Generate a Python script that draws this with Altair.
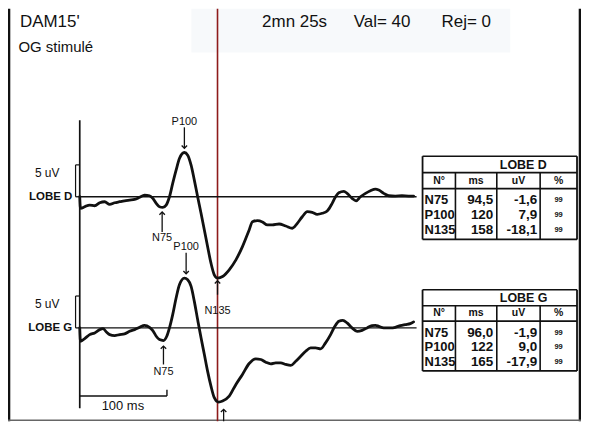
import altair as alt
import pandas as pd

# ---------------- data ----------------
D_T = [0, 0.6, 1.1, 5.7, 11.4, 17.1, 22.9, 28.6, 34.3, 40.0, 45.7, 51.4, 57.1, 62.9, 68.6,
       74.3, 80.0, 83.8, 87.7, 91.4, 95.2, 99.1, 102.9, 106.6, 110.5, 114.3, 120.0, 123.8,
       127.7, 131.4, 135.2, 139.1, 142.9, 146.6, 150.5, 154.3, 158.1, 163.8, 171.4, 179.1,
       186.6, 194.3, 198.1, 203.8, 209.5, 215.2, 220.9, 228.6, 236.2, 243.8, 249.5, 255.2,
       260.9, 266.6, 272.3, 278.1, 283.8, 289.5, 293.4, 297.1, 302.9, 306.6, 312.3, 316.9,
       321.9, 327.7, 333.4, 339.1, 342.9, 348.6, 354.3, 361.9, 369.5, 377.1, 382.9]
D_UV = [0, -1.61, -1.81, -1.56, -1.30, -1.41, -0.94, -0.78, -1.19, -0.94, -0.78, -0.63, -0.52,
        -0.41, -0.09, 0.27, 0.16, -0.25, -1.03, -1.56, -1.66, -1.30, 0, 2.09, 4.17, 6.0, 6.94,
        6.52, 4.95, 2.61, 0, -2.59, -5.20, -7.81, -10.41, -12.23, -12.75, -12.5, -11.45, -9.89,
        -7.81, -5.20, -3.91, -3.75, -3.95, -4.42, -4.42, -4.27, -4.58, -4.94, -4.16, -3.13,
        -2.34, -2.44, -2.75, -2.59, -2.23, -1.03, 0, 0.63, 0.84, 0.53, -0.25, -0.63, 0, 0.53,
        0.94, 1.20, 1.05, 0.53, 0.16, 0.11, 0.16, 0.11, 0.11]
G_T = [0, 0.6, 1.1, 5.7, 11.4, 17.1, 22.9, 26.6, 30.5, 34.3, 40.0, 45.7, 51.4, 57.1, 62.9,
       68.6, 74.3, 80.0, 83.8, 87.7, 91.4, 96.0, 99.8, 102.9, 106.6, 110.5, 114.3, 120.0,
       123.8, 127.7, 131.4, 135.2, 139.1, 142.9, 146.6, 150.5, 154.3, 159.2, 163.8, 171.4,
       179.1, 186.6, 194.3, 201.9, 207.7, 213.4, 219.1, 224.8, 230.5, 236.2, 241.9, 247.7,
       253.4, 259.1, 264.8, 270.5, 276.2, 281.9, 287.7, 292.6, 297.1, 301.7, 306.6, 312.3,
       318.1, 323.8, 329.5, 335.2, 339.1, 342.9, 348.6, 356.2, 361.9, 367.7, 373.4, 379.1, 382.9]
G_UV = [0, -1.83, -2.09, -1.67, -1.05, -0.78, -0.27, -0.11, -0.63, -1.05, -1.20, -1.05, -0.94,
        -0.53, -0.27, 0.09, 0.41, 0.09, -0.42, -1.31, -1.83, -1.98, -1.31, 0, 2.08, 4.69, 6.77,
        7.81, 7.55, 6.5, 4.16, 1.30, -1.56, -4.17, -6.78, -9.13, -10.94, -11.63, -11.47, -10.69,
        -8.86, -7.30, -5.58, -4.84, -4.95, -5.38, -5.63, -5.47, -5.47, -5.73, -5.89, -5.22,
        -4.44, -3.66, -3.13, -3.13, -3.28, -2.34, -1.05, 0.25, 1.03, 1.19, 0.78, 0, -0.53,
        -0.38, 0, 0.36, 0.41, 0.25, 0, 0, 0.09, 0.36, 0.52, 0.67, 0.94]

PEAKS = ["N75", "P100", "N135"]
D_MS = [94.5, 120, 158]
D_AMP = [-1.6, 7.9, -18.1]
D_PCT = [99, 99, 99]
G_MS = [96.0, 122, 165]
G_AMP = [-1.9, 9.0, -17.9]
G_PCT = [99, 99, 99]
TABLE_HEAD = ["N°", "ms", "uV", "%"]

HEADER_LEFT = ["DAM15'", "OG stimulé"]
HEADER_RIGHT = ["2mn 25s", "Val= 40", "Rej= 0"]
SCALE_UV = 5
SCALE_MS = 100
CURSOR_MS = 158

# ---------------- layout ----------------
OFF = 8
W, H = 575, 414
X0 = 80.0
PX_MS = 0.875
PX_UV = 6.4
BASE = {"D": 196.7, "G": 328.3}
XMIN = (OFF - X0) / PX_MS
XMAX = XMIN + W / PX_MS
YMAX = H / PX_UV
YOFF = {k: (OFF + H - v) / PX_UV for k, v in BASE.items()}
FONT = "Liberation Sans"
INK = "#111111"


def px(x):
    return x - OFF


def py(y):
    return y - OFF


xs = alt.Scale(domain=[XMIN, XMAX], nice=False, zero=False)
ys = alt.Scale(domain=[0, YMAX], nice=False, zero=False)
one = pd.DataFrame({"k": [0]})
layers = []


def text(s, x, y, size, weight="normal", align="left", color=INK):
    return alt.Chart(one).mark_text(
        text=s, fontSize=size, fontWeight=weight, align=align, baseline="middle",
        font=FONT, color=color
    ).encode(x=alt.value(px(x)), y=alt.value(py(y)))


def hline(x1, x2, y, w=1.5, color=INK):
    return alt.Chart(one).mark_rule(strokeWidth=w, color=color).encode(
        x=alt.value(px(x1)), x2=alt.value(px(x2)), y=alt.value(py(y)))


def vline(x, y1, y2, w=1.5, color=INK):
    return alt.Chart(one).mark_rule(strokeWidth=w, color=color).encode(
        x=alt.value(px(x)), y=alt.value(py(y1)), y2=alt.value(py(y2)))


# faint scan band at the top
layers.append(alt.Chart(one).mark_rect(color="#f7f9fb").encode(
    x=alt.value(px(192)), x2=alt.value(px(512)), y=alt.value(0), y2=alt.value(py(52))))

# frame
layers.append(vline(OFF + 1, OFF, OFF + H, w=2.6))
layers.append(vline(582, OFF, OFF + H, w=2.6))
layers.append(hline(OFF, 583, OFF + H - 1, w=1.5, color="#666666"))

# header
layers.append(text(HEADER_LEFT[0], 20, 21.7, 17))
layers.append(text(HEADER_LEFT[1], 18.5, 46.5, 15))
for s, x in zip(HEADER_RIGHT, [263, 355, 443]):
    layers.append(text(s, x, 21.7, 17))

# cursor (red)
layers.append(alt.Chart(pd.DataFrame({"t": [CURSOR_MS]})).mark_rule(
    color="#8e1b1b", strokeWidth=1.6).encode(
    x=alt.X("t:Q", scale=xs, axis=None), y=alt.value(0), y2=alt.value(H)))

# vertical axis + baselines
layers.append(vline(80, 120, 409, w=1.7))
for lobe in ["D", "G"]:
    layers.append(hline(80, 418, BASE[lobe], w=1.3))
    layers.append(hline(75.8, 80, BASE[lobe], w=1.3))

# 5 uV brackets
bdf = pd.DataFrame({"lobe": ["D", "G"], "y0": [YOFF["D"], YOFF["G"]],
                    "y1": [YOFF["D"] + SCALE_UV, YOFF["G"] + SCALE_UV]})
layers.append(alt.Chart(bdf).mark_rule(color=INK, strokeWidth=1.2).encode(
    x=alt.value(px(75.8)), y=alt.Y("y0:Q", scale=ys, axis=None), y2="y1:Q"))
layers.append(alt.Chart(bdf).mark_rule(color=INK, strokeWidth=1.2).encode(
    x=alt.value(px(75.8)), x2=alt.value(px(80)), y=alt.Y("y1:Q", scale=ys, axis=None)))
for lobe in ["D", "G"]:
    top = BASE[lobe] - SCALE_UV * PX_UV
    layers.append(text(f"{SCALE_UV} uV", 35, top + 8, 12))
    layers.append(text(f"LOBE {lobe}", 72.5, BASE[lobe], 11.5, weight="bold", align="right"))

# 100 ms scale bar
sdf = pd.DataFrame({"a": [0], "b": [SCALE_MS]})
layers.append(alt.Chart(sdf).mark_rule(color=INK, strokeWidth=1.4).encode(
    x=alt.X("a:Q", scale=xs, axis=None), x2="b:Q", y=alt.value(py(396.7))))
layers.append(alt.Chart(sdf).mark_rule(color=INK, strokeWidth=1.4).encode(
    x=alt.X("b:Q", scale=xs, axis=None), y=alt.value(py(390.3)), y2=alt.value(py(396.7))))
layers.append(text(f"{SCALE_MS} ms", 102, 406.5, 13))

# traces
tdf = pd.concat([
    pd.DataFrame({"t": D_T, "uv": D_UV, "lobe": "D"}),
    pd.DataFrame({"t": G_T, "uv": G_UV, "lobe": "G"}),
])
layers.append(alt.Chart(tdf).transform_calculate(
    yy=f"datum.uv + (datum.lobe == 'D' ? {YOFF['D']} : {YOFF['G']})"
).mark_line(color=INK, strokeWidth=2.8, interpolate="monotone",
            strokeJoin="round", strokeCap="round").encode(
    x=alt.X("t:Q", scale=xs, axis=None),
    y=alt.Y("yy:Q", scale=ys, axis=None),
    detail="lobe:N"))

# peak annotations: (tip_y, tail_y, text_y) per lobe / peak, page pixels
ANN = {
    "D": [(212, 232, 238.5), (148, 127, 121.5), (281, 295, 311.5)],
    "G": [(346.5, 365, 373), (274, 253, 247.5), (410, 422, None)],
}
rows = []
for lobe, lat in [("D", D_MS), ("G", G_MS)]:
    for name, t, (tip, tail, ty) in zip(PEAKS, lat, ANN[lobe]):
        rows.append({"t": t, "name": name, "tip": py(tip), "tail": py(tail),
                     "ty": py(ty) if ty is not None else None,
                     "dir": "down" if name.startswith("P") else "up"})
adf = pd.DataFrame(rows)
layers.append(alt.Chart(adf).mark_rule(color=INK, strokeWidth=1.3).encode(
    x=alt.X("t:Q", scale=xs, axis=None),
    y=alt.Y("tip:Q", scale=None), y2="tail:Q"))
for d, path in [("down", "M-1,-1L0,0L1,-1"), ("up", "M-1,1L0,0L1,1")]:
    layers.append(alt.Chart(adf[adf["dir"] == d]).mark_point(
        shape=path, filled=False, size=30, strokeWidth=1.3, color=INK, opacity=1).encode(
        x=alt.X("t:Q", scale=xs, axis=None), y=alt.Y("tip:Q", scale=None)))
layers.append(alt.Chart(adf.dropna(subset=["ty"])).mark_text(
    fontSize=11, font=FONT, color=INK, baseline="middle", align="center").encode(
    x=alt.X("t:Q", scale=xs, axis=None), y=alt.Y("ty:Q", scale=None), text="name:N"))


# tables
def fmt_ms(v):
    return f"{v:.1f}".replace(".", ",") if v < 100 else f"{v:.0f}"


def fmt_uv(v):
    return f"{v:.1f}".replace(".", ",")


COLS = [424, 457, 498.5, 542, 579]
TABLES = [("D", D_MS, D_AMP, D_PCT, 156, 172.5, 188.5, 239.5),
          ("G", G_MS, G_AMP, G_PCT, 290, 306, 321.5, 371.5)]
for lobe, ms, amp, pct, top, r1, r2, bot in TABLES:
    layers.append(hline(COLS[0], COLS[-1], top, w=1.6))
    layers.append(hline(COLS[0], COLS[-1], r1, w=1.6))
    layers.append(hline(COLS[0], COLS[-1], r2, w=1.6))
    layers.append(hline(COLS[0], COLS[-1], bot, w=1.8))
    layers.append(vline(COLS[0], top, bot, w=1.8))
    layers.append(vline(COLS[-1], top, bot, w=1.8))
    for c in COLS[1:-1]:
        layers.append(vline(c, r1, bot, w=1.6))
    layers.append(text(f"LOBE {lobe}", (COLS[0] + COLS[-1]) / 2, (top + r1) / 2 + 0.5, 12.5,
                       weight=600))
    for i, h in enumerate(TABLE_HEAD):
        layers.append(text(h, (COLS[i] + COLS[i + 1]) / 2, (r1 + r2) / 2, 10.5, weight="bold",
                           align="center"))
    step = (bot - r2) / 3.4
    for j, name in enumerate(PEAKS):
        y = r2 + 11.5 + j * step
        layers.append(text(name, COLS[0] + 2, y, 13, weight="bold"))
        layers.append(text(fmt_ms(ms[j]), COLS[2] - 3.5, y, 13.5, weight="bold", align="right"))
        layers.append(text(fmt_uv(amp[j]), COLS[3] - 3, y, 13.5, weight="bold", align="right"))
        layers.append(text(str(pct[j]), (COLS[3] + COLS[4]) / 2, y, 7.5, weight="bold",
                           align="center"))

chart = alt.layer(*layers).properties(
    width=W, height=H, padding=0, autosize=alt.AutoSizeParams(type="none"),
    background="white"
).configure_view(stroke=None)

chart.save("out.html", embed_options={"renderer": "svg", "actions": False})
